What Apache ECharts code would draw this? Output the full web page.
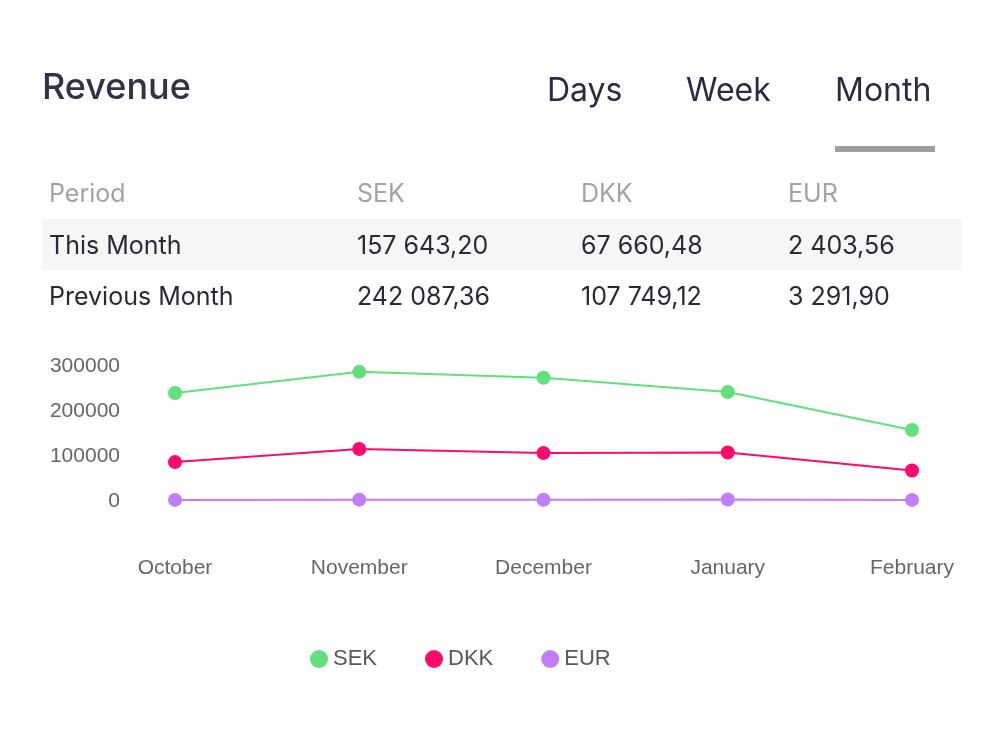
<!DOCTYPE html>
<html>
<head>
<meta charset="utf-8">
<script src="https://cdn.jsdelivr.net/npm/echarts@6/dist/echarts.min.js"></script>
<style>
  html, body { margin: 0; padding: 0; background: #fff; }
  #main { width: 1000px; height: 750px; }
</style>
</head>
<body>
<div id="main"></div>
<script>
var months = ['October', 'November', 'December', 'January', 'February'];
var currencies = ['SEK', 'DKK', 'EUR'];
var sekData = [240000, 287000, 274000, 242087, 157643];
var dkkData = [86500, 115500, 106500, 107749, 67660];
var eurData = [2500, 3000, 2900, 3292, 2404];
var yTicks = [0, 100000, 200000, 300000];

var tabs = ['Days', 'Week', 'Month'];
var tableHead = ['Period', 'SEK', 'DKK', 'EUR'];
var rowThisMonth = ['This Month', '157 643,20', '67 660,48', '2 403,56'];
var rowPrevMonth = ['Previous Month', '242 087,36', '107 749,12', '3 291,90'];

var colX = [49, 357, 581, 788]; // column left edges
var tabX = [547, 686, 835];

var head = [];
// title
head.push({ type: 'text', x: 42, y: 88, style: { text: 'Revenue', font: '500 36px Inter', fill: '#372f45', verticalAlign: 'middle' } });
// tabs
tabs.forEach(function (t, i) {
  head.push({ type: 'text', x: tabX[i], y: 91, style: { text: t, font: '400 32px Inter', fill: '#2f2840', verticalAlign: 'middle' } });
});
head.push({ type: 'rect', shape: { x: 835, y: 146, width: 100, height: 6 }, style: { fill: '#9e9e9e' } });
// table
head.push({ type: 'rect', shape: { x: 42, y: 219, width: 920, height: 51 }, style: { fill: '#f6f6f6' } });
tableHead.forEach(function (t, i) {
  head.push({ type: 'text', x: colX[i], y: 194, style: { text: t, font: '400 25px Inter', fill: '#a3a3a3', verticalAlign: 'middle' } });
});
rowThisMonth.forEach(function (t, i) {
  head.push({ type: 'text', x: colX[i], y: 246, style: { text: t, font: '400 25px Inter', fill: '#2c2838', verticalAlign: 'middle' } });
});
rowPrevMonth.forEach(function (t, i) {
  head.push({ type: 'text', x: colX[i], y: 297, style: { text: t, font: '400 25px Inter', fill: '#2c2838', verticalAlign: 'middle' } });
});

var myChart = echarts.init(document.getElementById('main'));
var colors = ['#62e07b', '#ff0a6c', '#c27ef8'];
var option = {
  color: colors,
  animation: false,
  graphic: head,
  legend: {
    data: currencies,
    left: 305,
    top: 643,
    icon: 'circle',
    itemWidth: 18,
    itemHeight: 18,
    itemGap: 48,
    itemTextGap: 8,
    textStyle: { fontFamily: 'Liberation Sans', fontSize: 22, color: '#595959' }
  },
  grid: { left: 175, right: 88, top: 366, bottom: 249 },
  xAxis: {
    type: 'category',
    data: months,
    boundaryGap: false,
    axisLine: { show: false },
    axisTick: { show: false },
    axisLabel: { margin: 57, fontFamily: 'Liberation Sans', fontSize: 21, color: '#666' }
  },
  yAxis: {
    type: 'value',
    min: yTicks[0],
    max: yTicks[yTicks.length - 1],
    interval: 100000,
    splitLine: { show: false },
    axisLine: { show: false },
    axisTick: { show: false },
    axisLabel: {
      margin: 55, fontFamily: 'Liberation Sans', fontSize: 21, color: '#666',
      formatter: function (v) { return String(v); }
    }
  },
  series: [
    { name: 'SEK', type: 'line', data: sekData, symbol: 'circle', symbolSize: 14, lineStyle: { width: 2 } },
    { name: 'DKK', type: 'line', data: dkkData, symbol: 'circle', symbolSize: 14, lineStyle: { width: 2 } },
    { name: 'EUR', type: 'line', data: eurData, symbol: 'circle', symbolSize: 14, lineStyle: { width: 2 } }
  ]
};
myChart.setOption(option);
</script>
</body>
</html>
